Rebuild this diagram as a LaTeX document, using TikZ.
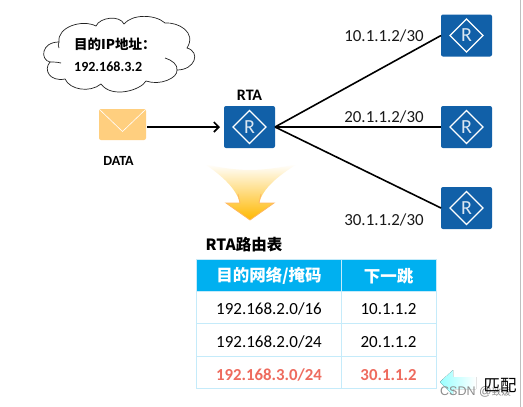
\documentclass[tikz,border=0pt]{standalone}
\usepackage{fontspec}
\setmainfont{Carlito}
\newfontfamily\cjk{Noto Sans CJK SC}
\newfontfamily\wmfont{Liberation Sans}
\usetikzlibrary{arrows.meta,shadings,fadings}
\definecolor{rblue}{HTML}{1160A8}
\definecolor{thead}{HTML}{00B0F0}
\definecolor{tline}{HTML}{C5EBFA}
\definecolor{tred}{HTML}{EE6B5E}
\definecolor{mailc}{HTML}{FFCF7F}
\definecolor{arrowb}{HTML}{FFB800}
\definecolor{arrowe}{HTML}{FFB860}
\definecolor{cloudl}{HTML}{222222}
\tikzset{
 router/.pic={
  \fill[rblue,rounded corners=2] (-25.5,-21) rectangle (25.5,21);
  \draw[white,line width=1.3] (-16.5,0)--(0,-16.5)--(16.5,0)--(0,16.5)--cycle;
  \node[text=white!85!rblue,font=\fontsize{20}{20}\selectfont,inner sep=0] at (0,0) {R};
 },
 lbl/.style={font=\fontsize{16.9}{17}\selectfont,inner sep=0,text=black!90},
 bold/.style={font=\fontsize{14}{15}\selectfont\bfseries,inner sep=0},
 conn/.style={line width=1.6,black},
 cell/.style={font=\fontsize{17}{18}\selectfont,inner sep=0,text=black},
 hit/.style={font=\fontsize{16.8}{18}\selectfont\bfseries,inner sep=0,text=tred},
 head/.style={font=\fontsize{16.5}{18}\selectfont\bfseries\cjk,inner sep=0,text=white},
 cloudline/.style={draw=cloudl,line width=0.7},
}
\begin{document}
\begin{tikzpicture}[x=1pt,y=-1pt]
\useasboundingbox (0,0) rectangle (523,407);
\fill[white] (0,0) rectangle (523,407);
\draw[black!25,line width=0.8] (520,0)--(520,407);
% cloud
\draw[cloudline,fill=white]
 (59,42) .. controls (57,27) and (82,19) .. (96,26)
 .. controls (100,17) and (120,15) .. (124,24)
 .. controls (132,14) and (155,14) .. (165,23)
 .. controls (178,22) and (197,32) .. (187,48)
 .. controls (201,52) and (195,70) .. (177,70)
 .. controls (178,78) and (160,86) .. (146,81)
 .. controls (141,90) and (112,99) .. (101,84)
 .. controls (90,93) and (70,90) .. (65,79)
 .. controls (50,82) and (43,70) .. (50,62)
 .. controls (40,60) and (41,42) .. (59,42) -- cycle;
\draw[cloudline] (59,42) .. controls (58,44) and (58,46) .. (59,48);
\draw[cloudline] (50,62) .. controls (53,62) and (57,62) .. (61,63);
\draw[cloudline] (165,58) .. controls (172,60) and (178,65) .. (177,70);
\node[font=\fontsize{13.5}{14}\selectfont\bfseries\cjk,anchor=west,inner sep=0] (dst) at (74,44) {目的IP地址：};
\node[bold,anchor=west] (ip) at (74,66.5) {192.168.3.2};
% mail
\fill[mailc,rounded corners=2] (99,109) rectangle (146,140);
\draw[white,line width=0.6] (99.5,109.5)--(122.5,131.5)--(145.5,109.5);
\coordinate (mail) at (147,127);
\node[bold] (data) at (118.5,161) {DATA};
% routers
\pic at (249.5,127) {router};
\pic at (466.5,35.5) {router};
\pic at (466.5,127) {router};
\pic at (466.5,208) {router};
\coordinate (mailb) at (165,127);
\coordinate (rta) at (220,127);
\coordinate (hub) at (275,127);
\coordinate (r1) at (441,35.5);
\coordinate (r2) at (441,127);
\coordinate (r3) at (441,208);
\node[font=\fontsize{16}{16}\selectfont\bfseries,inner sep=0] (rtal) at (249.5,95) {RTA};
\draw[conn,-{Straight Barb[length=5pt,width=10pt]}] (mail) -- (rta);
\draw[line width=2.2] (mail) -- (mailb);
\draw[conn] (hub) -- (r1);
\draw[conn] (hub) -- (r2);
\draw[conn] (hub) -- (r3);
\node[lbl] (l1) at (384,36) {10.1.1.2/30};
\node[lbl] (l2) at (384,117) {20.1.1.2/30};
\node[lbl] (l3) at (384,220) {30.1.1.2/30};
% big arrow
\shade[top color=white,bottom color=arrowb,draw=none]
 (205,164) .. controls (222,176) and (236,188) .. (240,203)
 -- (226,203) -- (250,220) -- (274,203) -- (259,203)
 .. controls (263,188) and (278,176) .. (297,164)
 .. controls (280,168) and (262,170) .. (250,170)
 .. controls (238,170) and (220,168) .. (205,164) -- cycle;
\draw[arrowe,line width=0.8] (238,194) -- (240,203) -- (226,203) -- (250,220) -- (274,203) -- (259,203) -- (261,194);
\node[font=\fontsize{15.5}{16}\selectfont\bfseries\cjk,anchor=west,inner sep=0] (tt) at (205.5,245) {RTA路由表};
% table
\fill[thead] (196.5,259) rectangle (436,291);
\draw[tline,line width=1] (196.5,259) rectangle (436,388.5);
\draw[tline,line width=1] (196.5,291)--(436,291) (196.5,323.5)--(436,323.5) (196.5,356)--(436,356) (341,259)--(341,388.5);
\node[head] (h1) at (269,276) {目的网络/掩码};
\node[head] (h2) at (388.5,276) {下一跳};
\node[cell] (a1) at (269,309) {192.168.2.0/16};
\node[cell] (b1) at (388.5,309) {10.1.1.2};
\node[cell] (a2) at (269,342) {192.168.2.0/24};
\node[cell] (b2) at (388.5,342) {20.1.1.2};
\node[hit] (a3) at (269,375) {192.168.3.0/24};
\node[hit] (b3) at (388.5,375) {30.1.1.2};
% match arrow
\fill[left color=cyan!40,right color=white] (440,382)--(453,370)--(453,377)--(476,377)--(476,389)--(453,389)--(453,395)--cycle;
\node[font=\fontsize{12.5}{13}\selectfont\wmfont,text=black!45,anchor=west,inner sep=0] (w) at (440,392) {CSDN @\cjk\fontsize{9.5}{13}\selectfont 致嫒};
\node[font=\fontsize{16.5}{16}\selectfont\cjk,inner sep=0] (m) at (500,386) {匹配};
\end{tikzpicture}
\end{document}
